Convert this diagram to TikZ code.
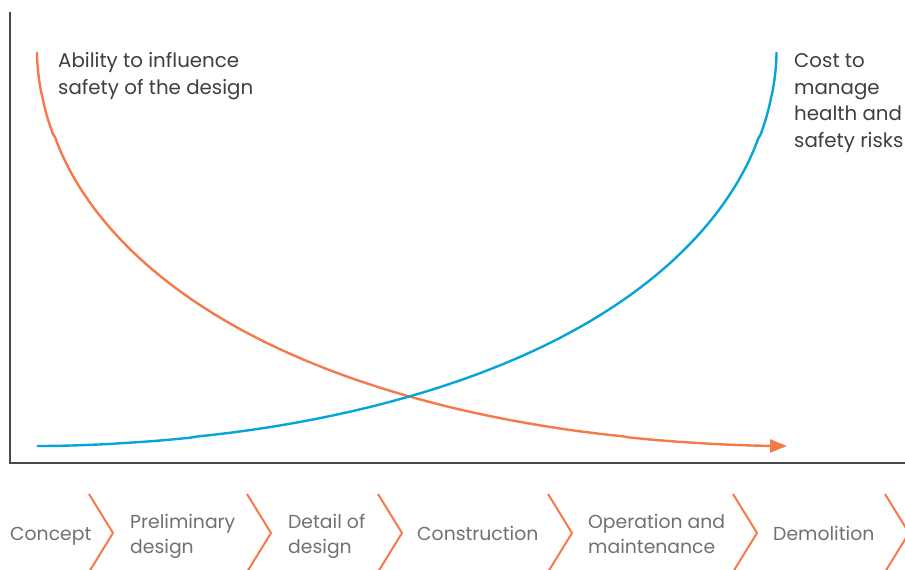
\documentclass[tikz,border=0pt]{standalone}
\usepackage{fontspec}
\setmainfont{Poppins}
\usetikzlibrary{arrows.meta}
\definecolor{orng}{HTML}{F47A4A}
\definecolor{blu}{HTML}{06A5D8}
\definecolor{axisgray}{HTML}{4A4A4A}
\definecolor{toptext}{HTML}{3F3F3F}
\definecolor{steptext}{HTML}{707175}
\tikzset{
  axisline/.style={draw=axisgray, line width=1.8pt},
  curveline/.style={line width=2.4pt},
  chevron/.style={draw=orng, line width=2pt},
  toplabel/.style={anchor=base west, inner sep=0pt, align=left, text=toptext, font=\fontsize{19.8}{26.5}\selectfont},
  steplabel/.style={anchor=base west, inner sep=0pt, align=left, text=steptext, font=\fontsize{18.8}{25}\selectfont},
}
\begin{document}
\begin{tikzpicture}[x=1pt,y=-1pt]
\useasboundingbox[fill=white] (0,0) rectangle (905,570);
% axes
\coordinate (ytop) at (10,12);
\coordinate (origin) at (10,463);
\coordinate (xend) at (905,463);
\draw[axisline] (ytop) -- (origin) -- (xend);
% orange curve: superellipse u^0.55 + v^0.55 = 1
\draw[curveline, draw=orng, -{Triangle[length=17pt,width=13pt]}]
  (37,52) -- plot[domain=0.0005:0.9995, samples=160, variable=\s]
  ({37+750*pow(\s,1.818)}, {446-394*pow(1-\s,1.818)}) -- (787,446);
% blue curve
\draw[curveline, draw=blu]
  (37,446) -- plot[domain=0.0005:0.9995, samples=160, variable=\s]
  ({776.5-739.5*pow(1-\s,1.818)}, {446-394*pow(\s,1.818)}) -- (776.5,52);
% labels (anchored at the baseline of the last line)
\node[toplabel] (ability) at (58,94) {Ability to influence\\safety of the design};
\node[toplabel] (cost) at (794,147) {Cost to\\manage\\health and\\safety risks};
% stages
\node[steplabel] (concept) at (10,540) {Concept};
\node[steplabel] (prelim) at (130,553) {Preliminary\\design};
\node[steplabel] (detail) at (288,553) {Detail of\\design};
\node[steplabel] (constr) at (417,540) {Construction};
\node[steplabel] (oper) at (588,553) {Operation and\\maintenance};
\node[steplabel] (demol) at (773,540) {Demolition};
% chevrons
\foreach \cx in {89,247,378,548,733,885}{
  \draw[chevron] (\cx,494) -- (\cx+24,533) -- (\cx,572);
}
\end{tikzpicture}
\end{document}
